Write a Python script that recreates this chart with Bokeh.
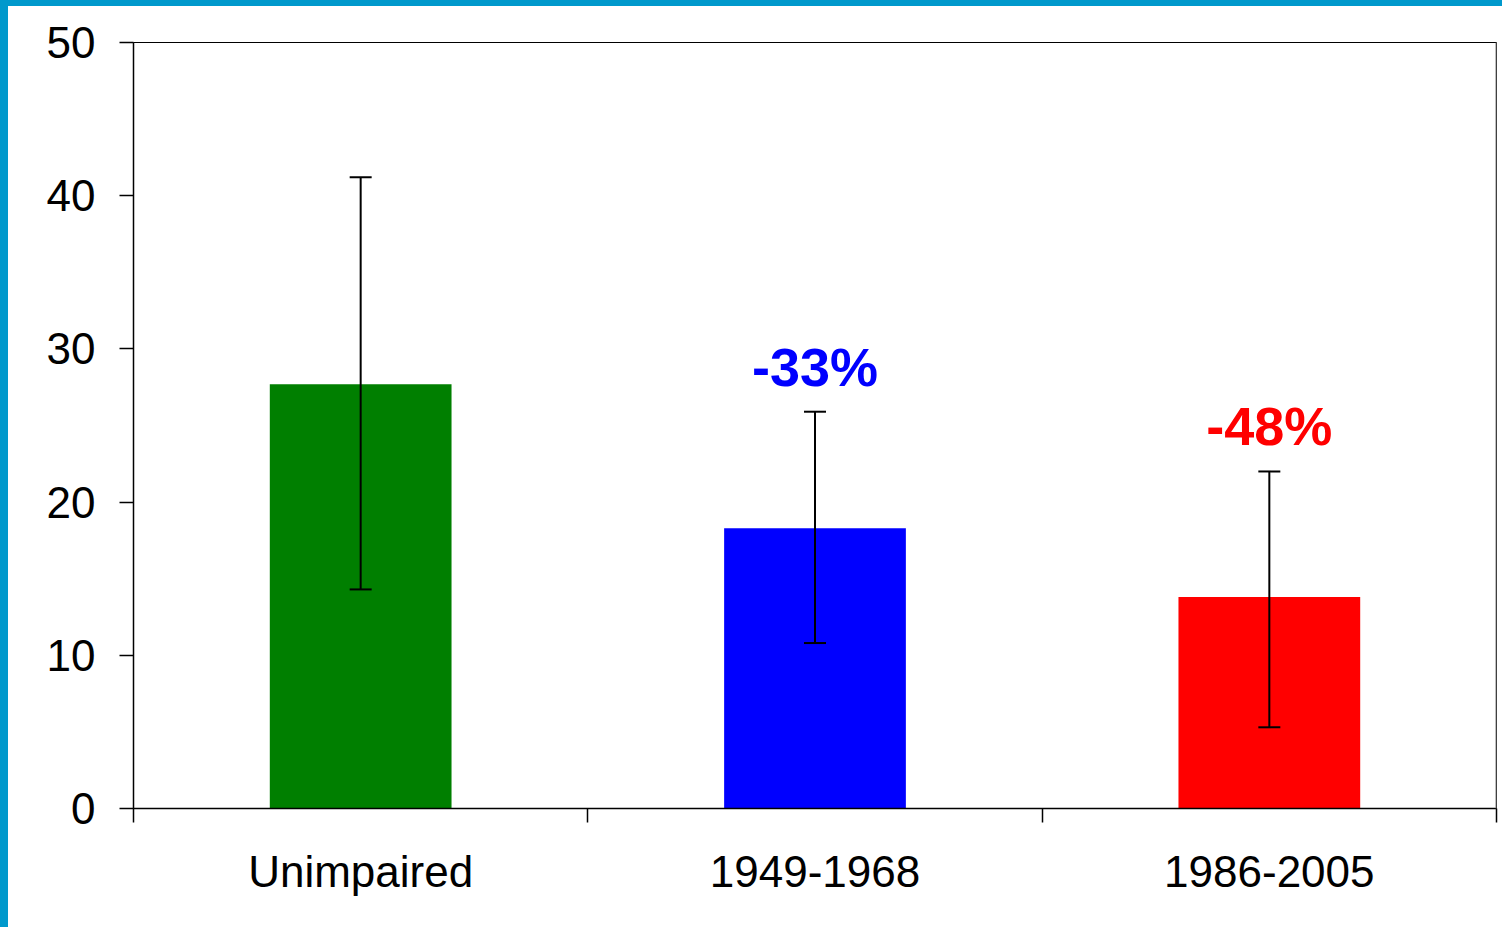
from bokeh.plotting import figure
from bokeh.models import (ColumnDataSource, Whisker, TeeHead, FixedTicker, LinearAxis,
                          Range1d, Span, Label)
from bokeh.embed import file_html
from bokeh.resources import INLINE

categories = ["Unimpaired", "1949-1968", "1986-2005"]
values = [27.7, 18.3, 13.8]
upper = [41.2, 25.9, 22.0]
lower = [14.3, 10.8, 5.3]
colors = ["#007F00", "#0000FF", "#FF0000"]
annotations = ["", "-33%", "-48%"]
y_ticks = [0, 10, 20, 30, 40, 50]

FONT = "Liberation Sans"
xpos = [i + 0.5 for i in range(len(categories))]

src = ColumnDataSource(dict(x=xpos, top=values, upper=upper, lower=lower,
                            color=colors, cat=categories))

BL, BT = 8, 6  # decorative blue border (left, top)
p = figure(width=1510 - 2 * BL, height=933 - 2 * BT, output_backend="svg",
           toolbar_location=None,
           x_range=Range1d(0, len(categories)), y_range=Range1d(0, 50),
           x_axis_type=None, min_border_left=133 - BL, min_border_top=42 - BT,
           min_border_right=14, min_border_bottom=125)
p.styles = {"border-left": f"{BL}px solid #0099CC", "border-top": f"{BT}px solid #0099CC",
            "box-sizing": "content-box"}

p.background_fill_color = "white"
p.border_fill_color = "white"
p.grid.visible = False
p.outline_line_color = "black"
p.outline_line_width = 1

p.vbar(x="x", top="top", width=0.4, fill_color="color", line_color=None, source=src)

w = Whisker(base="x", upper="upper", lower="lower", source=src, level="overlay",
            line_color="black", line_width=2,
            upper_head=TeeHead(size=22, line_color="black", line_width=2),
            lower_head=TeeHead(size=22, line_color="black", line_width=2))
p.add_layout(w)

# y axis
yax = p.yaxis[0]
yax.ticker = FixedTicker(ticks=y_ticks)
yax.minor_tick_line_color = None
yax.major_tick_out = 14
yax.major_tick_in = 0
yax.major_label_standoff = 24
yax.major_label_text_font = FONT
yax.major_label_text_font_size = "44px"
yax.major_label_text_color = "black"
yax.axis_line_color = "black"
yax.axis_line_width = 1.5
yax.major_tick_line_width = 1.5

# x axis: separators
xsep = LinearAxis(ticker=FixedTicker(ticks=list(range(len(categories) + 1))),
                  major_label_overrides={i: "" for i in range(len(categories) + 1)},
                  major_label_text_font_size="1px", major_label_standoff=0,
                  major_tick_out=14, major_tick_in=0, minor_tick_line_color=None,
                  axis_line_color="black", axis_line_width=1.5, major_tick_line_width=1.5)
p.add_layout(xsep, "below")

# x axis: category labels
xlab = LinearAxis(ticker=FixedTicker(ticks=xpos),
                  major_label_overrides={x: c for x, c in zip(xpos, categories)},
                  major_label_text_font=FONT, major_label_text_font_size="44px",
                  major_label_text_color="black", major_label_standoff=18,
                  major_tick_line_color=None, minor_tick_line_color=None,
                  axis_line_color=None)
p.add_layout(xlab, "below")

# right border in grey
p.add_layout(Span(location=len(categories), dimension="height",
                  line_color="#808080", line_width=2))

# percentage annotations
for x, u, t, c in zip(xpos, upper, annotations, colors):
    if t:
        p.add_layout(Label(x=x, y=u, text=t, text_color=c, text_font=FONT,
                           text_font_size="54px", text_font_style="bold",
                           text_align="center", text_baseline="alphabetic",
                           y_offset=45))

open("out.html", "w").write(file_html(p, INLINE))
